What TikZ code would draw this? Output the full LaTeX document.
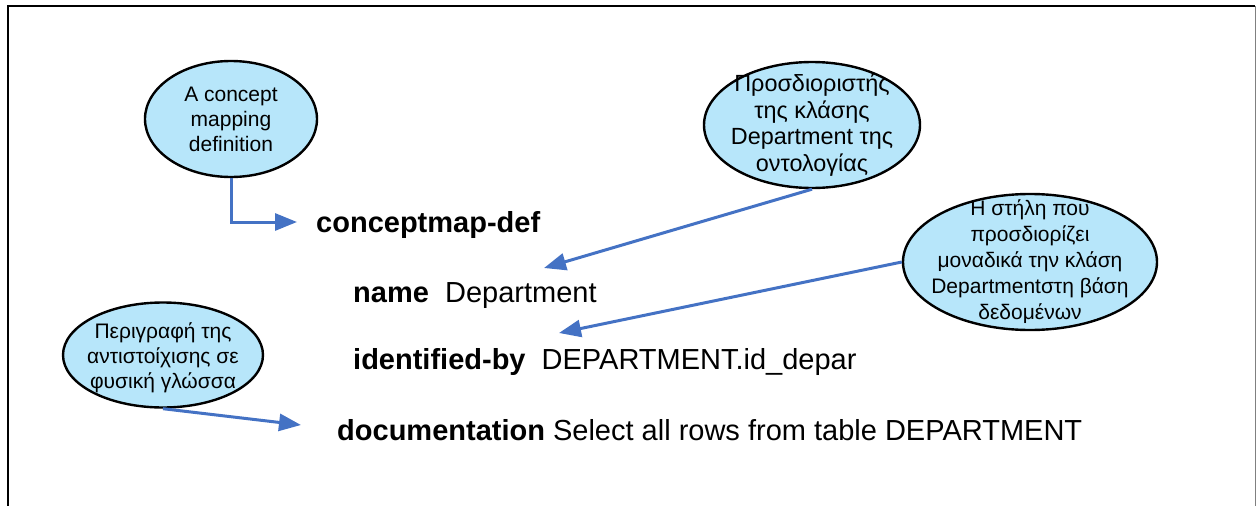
\documentclass[tikz,border=0pt]{standalone}
\usepackage{fontspec}
\setmainfont{Liberation Sans}
\usetikzlibrary{shapes.geometric,arrows.meta}
\definecolor{bubblefill}{RGB}{183,230,250}
\definecolor{linkblue}{RGB}{68,114,196}
\begin{document}
\begin{tikzpicture}[x=1pt,y=-1pt,
  bubble/.style={ellipse,draw=black,line width=2.4pt,fill=bubblefill,inner sep=0pt},
  bubbletext/.style={inner sep=0pt,align=center,font=\fontsize{21}{25}\selectfont},
  link/.style={draw=linkblue,line width=3pt,-{Triangle[length=22pt,width=17pt]}},
  entry/.style={anchor=base west,inner sep=0pt,font=\fontsize{29}{34}\selectfont}]
\useasboundingbox (0,0) rectangle (1256,506);
% frame
\draw[line width=2pt] (8,506) -- (8,6) -- (1255,6);
\draw[gray,line width=1pt] (1255,6) -- (1255,506);

% callout bubbles
\node[bubble,minimum width=172pt,minimum height=116pt] (def) at (231,119) {};
\node[bubbletext] at (def) {A concept\\mapping\\definition};

\node[bubble,minimum width=216pt,minimum height=126pt] (cls) at (812,125) {};
\node[bubbletext,font=\fontsize{23.4}{26.5}\selectfont] at (cls) {Προσδιοριστής\\της κλάσης\\Department της\\οντολογίας};

\node[bubble,minimum width=254pt,minimum height=136pt] (col) at (1030,262) {};
\node[bubbletext,font=\fontsize{21}{26}\selectfont] at (col) {Η στήλη που\\προσδιορίζει\\μοναδικά την κλάση\\Departmentστη βάση\\δεδομένων};

\node[bubble,minimum width=200pt,minimum height=105pt] (doc) at (163,355) {};
\node[bubbletext] at ([yshift=-3pt]doc.center) {Περιγραφή της\\αντιστοίχισης σε\\φυσική γλώσσα};

% mapping definition lines
\node[entry] (cm) at (316,232) {\textbf{conceptmap-def}};
\node[entry] (nm) at (353,302) {\textbf{name}\ \ Department};
\node[entry] (id) at (353,369) {\textbf{identified-by}\ \ DEPARTMENT.id\_depar};
\node[entry] (dc) at (337,440) {\textbf{documentation} Select all rows from table DEPARTMENT};

% connectors
\coordinate (t1) at (297,222);
\coordinate (t2) at (544,268);
\coordinate (t3) at (559,333);
\coordinate (t4) at (301,425);
\draw[link] (def.south) |- (t1);
\draw[link] (cls.south) -- (t2);
\draw[link] (col.west) -- (t3);
\draw[link] (doc.south) -- (t4);
\end{tikzpicture}
\end{document}
